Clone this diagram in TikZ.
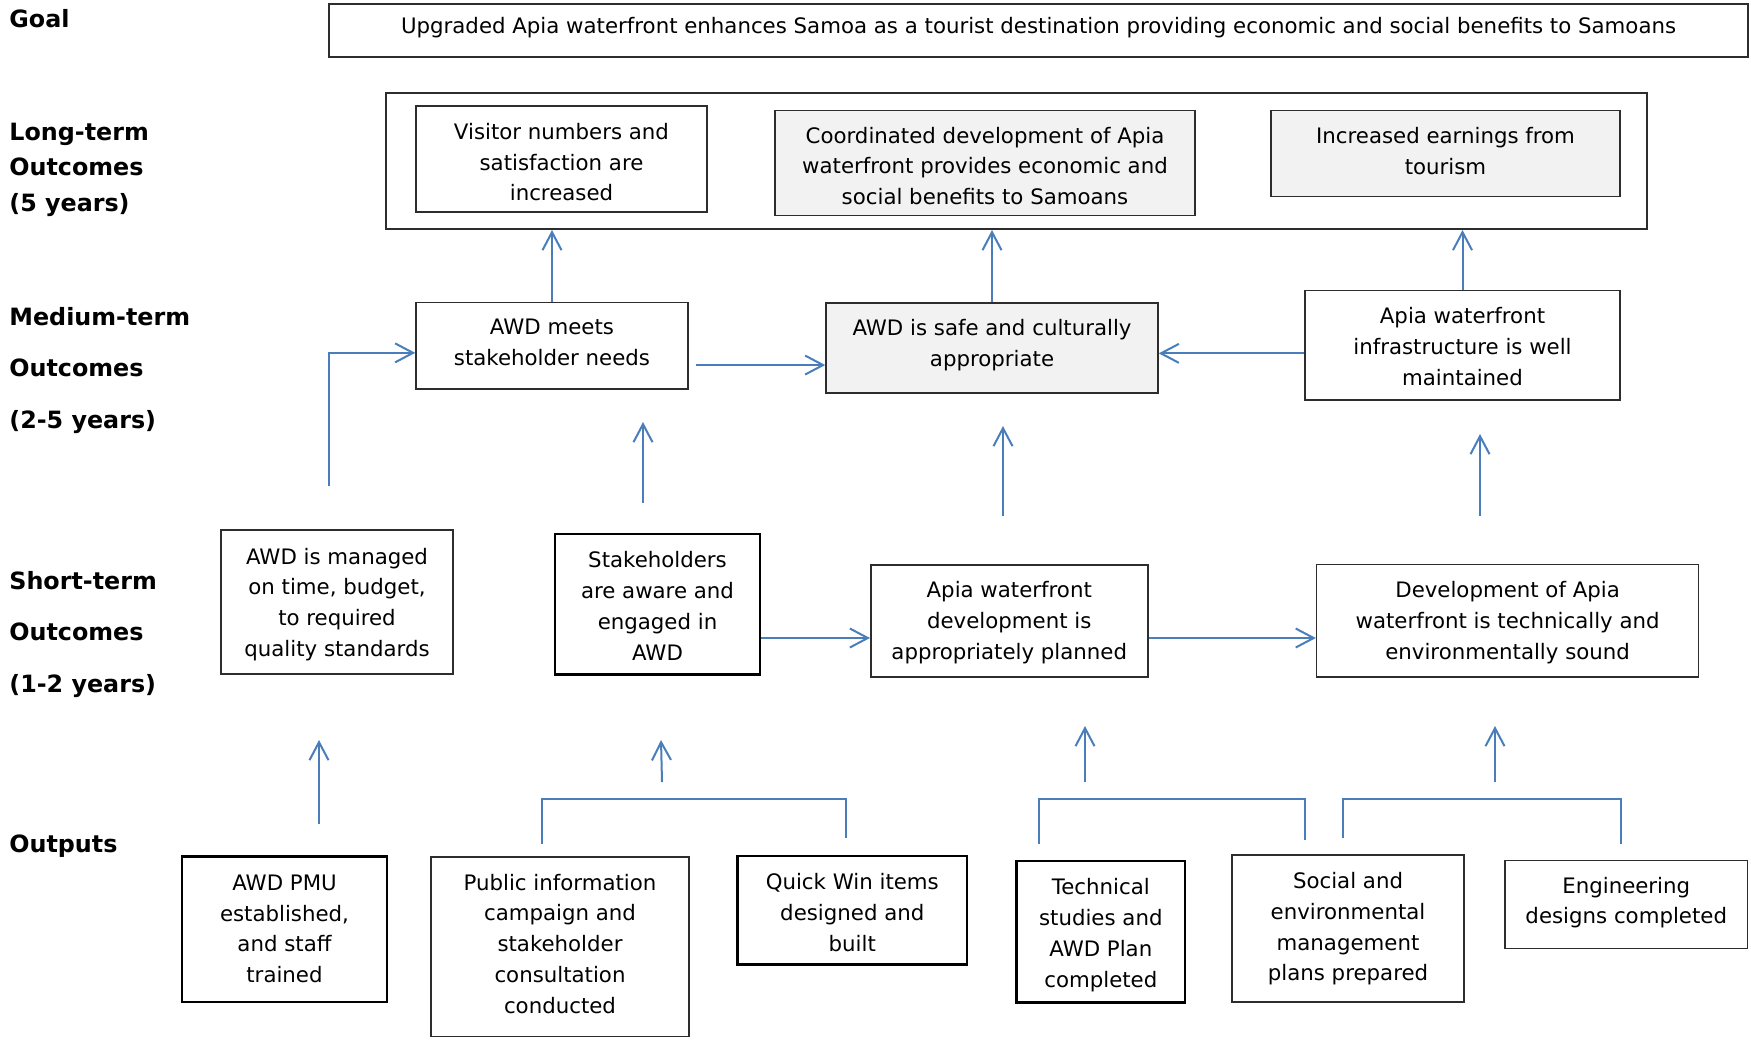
\documentclass[tikz,border=0pt]{standalone}
\usepackage{fontspec}
\setmainfont{DejaVu Sans}
\usetikzlibrary{arrows.meta,fit}
\definecolor{arrblue}{RGB}{74,126,187}
\definecolor{boxgray}{RGB}{242,242,242}
\definecolor{edge}{RGB}{45,45,45}
\tikzset{
  box/.style={draw=edge, line width=0.75pt, inner sep=0pt},
  thickbox/.style={box, draw=black, line width=1.4pt},
  graybox/.style={box, fill=boxgray},
  txt/.style={inner sep=0pt, align=center, font=\fontsize{10.65}{15.4}\selectfont},
  lbl/.style={anchor=base west, inner sep=0pt, font=\bfseries\fontsize{11.9}{14}\selectfont},
  arr/.style={draw=arrblue, line width=1pt, -{Straight Barb[length=9pt,width=9.5pt]}},
  link/.style={draw=arrblue, line width=1pt},
}
\begin{document}
\begin{tikzpicture}[x=0.5pt,y=-0.5pt]
\useasboundingbox (0,0) rectangle (1751,1040);

% level labels
\node[lbl] (lgoal) at (9,27) {Goal};
\node[lbl] (llt1) at (9,140) {Long-term};
\node[lbl] (llt2) at (9,175.5) {Outcomes};
\node[lbl] (llt3) at (9,211) {(5 years)};
\node[lbl] (lmt1) at (9,325) {Medium-term};
\node[lbl] (lmt2) at (9,376.7) {Outcomes};
\node[lbl] (lmt3) at (9,428) {(2-5 years)};
\node[lbl] (lst1) at (9,589) {Short-term};
\node[lbl] (lst2) at (9,640) {Outcomes};
\node[lbl] (lst3) at (9,692) {(1-2 years)};
\node[lbl] (lout) at (9,852) {Outputs};

% goal
\node[box, line width=1pt, fit={(329,3.5)(1748,57)}] (goal) {};
\node[txt] (goal-t) at ([yshift=1.3pt]goal.center) {Upgraded Apia waterfront enhances Samoa as a tourist destination providing economic and social benefits to Samoans};

% long-term
\node[box, line width=1pt, fit={(386,93)(1647,229)}] (lt) {};
\node[box, fit={(416,106)(707,212)}] (visitor) {};
\node[txt] (visitor-t) at ([yshift=-1.6pt]visitor.center) {Visitor numbers and\\satisfaction are\\increased};
\node[graybox, fit={(775,110.5)(1195,215.5)}] (coord) {};
\node[txt] (coord-t) at ([yshift=-1.5pt]coord.center) {Coordinated development of Apia\\waterfront provides economic and\\social benefits to Samoans};
\node[graybox, fit={(1271,110.5)(1620,196.5)}] (earn) {};
\node[txt] (earn-t) at ([yshift=1.3pt]earn.center) {Increased earnings from\\tourism};

% medium-term
\node[box, fit={(416,302.7)(688,389)}] (meets) {};
\node[txt] (meets-t) at ([yshift=1.6pt]meets.center) {AWD meets\\stakeholder needs};
\node[graybox, fit={(826,303)(1158,393)}] (safe) {};
\node[txt] (safe-t) at ([yshift=1.3pt]safe.center) {AWD is safe and culturally\\appropriate};
\node[box, fit={(1305,290.7)(1620,400)}] (infra) {};
\node[txt] (infra-t) at ([yshift=-0.5pt]infra.center) {Apia waterfront\\infrastructure is well\\maintained};

% short-term
\node[box, fit={(221,530)(453,674)}] (managed) {};
\node[txt] (managed-t) at ([yshift=-1.2pt]managed.center) {AWD is managed\\on time, budget,\\to required\\quality standards};
\node[thickbox, fit={(555,534)(760,674.5)}] (stake) {};
\node[txt] (stake-t) at ([yshift=-0.8pt]stake.center) {Stakeholders\\are aware and\\engaged in\\AWD};
\node[box, line width=1pt, fit={(871,564.7)(1147.5,676.5)}] (planned) {};
\node[txt] (planned-t) at ([yshift=-0.9pt]planned.center) {Apia waterfront\\development is\\appropriately planned};
\node[box, fit={(1316.6,564.7)(1698.6,677)}] (dev) {};
\node[txt] (dev-t) at ([yshift=-0.9pt]dev.center) {Development of Apia\\waterfront is technically and\\environmentally sound};

% outputs
\node[thickbox, fit={(182,856.8)(387,1002)}] (pmu) {};
\node[txt] (pmu-t) at ([yshift=0.3pt]pmu.center) {AWD PMU\\established,\\and staff\\trained};
\node[box, fit={(431,857)(689,1036.6)}] (public) {};
\node[txt] (public-t) at ([yshift=1.5pt]public.center) {Public information\\campaign and\\stakeholder\\consultation\\conducted};
\node[thickbox, fit={(737.6,856)(967,964.7)}] (quick) {};
\node[txt] (quick-t) at ([yshift=-1.1pt]quick.center) {Quick Win items\\designed and\\built};
\node[thickbox, fit={(1016.6,861)(1185,1002.6)}] (tech) {};
\node[txt] (tech-t) at ([yshift=-1.6pt]tech.center) {Technical\\studies and\\AWD Plan\\completed};
\node[box, fit={(1232,855)(1464,1002)}] (social) {};
\node[txt] (social-t) at ([yshift=-0.2pt]social.center) {Social and\\environmental\\management\\plans prepared};
\node[box, fit={(1505,860.7)(1747.5,948.5)}] (eng) {};
\node[txt] (eng-t) at ([yshift=1pt]eng.center) {Engineering\\designs completed};

% medium -> long
\draw[arr] (meets.north) -- (meets.north |- lt.south);
\draw[arr] (safe.north) -- (safe.north |- lt.south);
\draw[arr] (infra.north) -- (infra.north |- lt.south);
\draw[arr] ([yshift=-4pt]infra.west) -- ([yshift=-4pt]infra.west -| safe.east);
\draw[arr, shorten <=3.5pt] ([yshift=-9.6pt]meets.east) -- ([yshift=-9.6pt]meets.east -| safe.west);
\coordinate (m0) at (329,486);
\draw[arr] (m0) |- ([yshift=-3.5pt]meets.west);

% short -> medium (free arrows)
\coordinate (s1a) at (643,503); \coordinate (s1b) at (643,422);
\coordinate (s2a) at (1003,516); \coordinate (s2b) at (1003,426);
\coordinate (s3a) at (1480,516); \coordinate (s3b) at (1480,434);
\draw[arr] (s1a) -- (s1b);
\draw[arr] (s2a) -- (s2b);
\draw[arr] (s3a) -- (s3b);

% short-term links
\coordinate (y638) at (0,638);
\draw[arr] (stake.east |- y638) -- (planned.west |- y638);
\draw[arr] (planned.east |- y638) -- (dev.west |- y638);

% outputs -> short
\coordinate (o1a) at (319,824); \coordinate (o1b) at (319,740);
\coordinate (o2a) at (662,782); \coordinate (o2b) at (661,740);
\coordinate (o3a) at (1085,782); \coordinate (o3b) at (1085,726);
\coordinate (o4a) at (1495,782); \coordinate (o4b) at (1495,726);
\draw[arr] (o1a) -- (o1b);
\draw[arr] (o2a) -- (o2b);
\draw[arr] (o3a) -- (o3b);
\draw[arr] (o4a) -- (o4b);

% brackets
\coordinate (b1l) at (541.6,844); \coordinate (b1r) at (845.5,838);
\coordinate (b2l) at (1039,844); \coordinate (b2r) at (1305.4,840);
\coordinate (b3l) at (1343,838); \coordinate (b3r) at (1621,844);
\coordinate (ybr) at (0,798.6);
\draw[link] (b1l) |- (b1r |- ybr) -- (b1r);
\draw[link] (b2l) |- (b2r |- ybr) -- (b2r);
\draw[link] (b3l) |- (b3r |- ybr) -- (b3r);
\end{tikzpicture}
\end{document}
